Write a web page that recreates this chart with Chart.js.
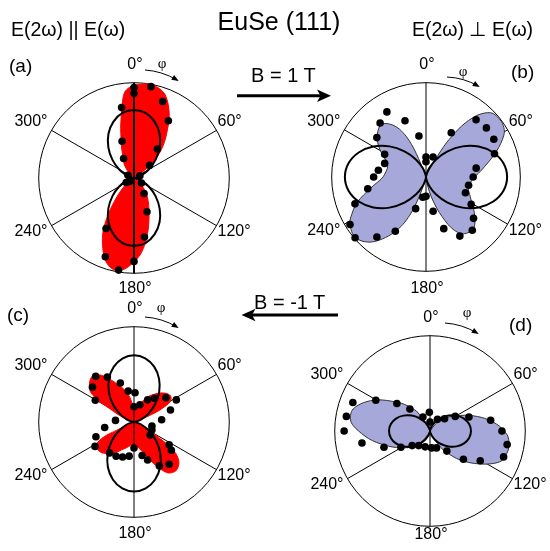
<!DOCTYPE html>
<html>
<head>
<meta charset="utf-8">
<script src="https://cdn.jsdelivr.net/npm/chart.js@4.4.1/dist/chart.umd.min.js"></script>
<style>
  html, body { margin: 0; padding: 0; background: #fff; overflow: hidden; }
  #fig { position: relative; width: 550px; height: 551px; overflow: hidden; font-family: 'Liberation Sans', Arial, sans-serif; color: #000; }
  #fig canvas { position: absolute; }
  .txt { position: absolute; white-space: nowrap; line-height: 1; }
</style>
</head>
<body>
<div id="fig">
  <canvas id="chartA" width="290" height="290"></canvas>
  <canvas id="chartB" width="290" height="290"></canvas>
  <canvas id="chartC" width="290" height="290"></canvas>
  <canvas id="chartD" width="290" height="290"></canvas>

  <div class="txt" style="left:279px; top:8.8px; font-size:25px; transform:translateX(-50%)">EuSe (111)</div>
  <div class="txt" style="left:11px; top:20px; font-size:19.5px">E(2&omega;) || E(&omega;)</div>
  <div class="txt" style="left:412px; top:20px; font-size:19.5px">E(2&omega;) &perp; E(&omega;)</div>
  <div class="txt" style="left:9px; top:55.9px; font-size:19px">(a)</div>
  <div class="txt" style="left:511px; top:61.9px; font-size:19px">(b)</div>
  <div class="txt" style="left:7px; top:304.9px; font-size:19px">(c)</div>
  <div class="txt" style="left:509px; top:314.9px; font-size:19px">(d)</div>
  <div class="txt" style="left:251px; top:65.4px; font-size:20px">B = 1 T</div>
  <div class="txt" style="left:254px; top:292px; font-size:20px">B = -1 T</div>

  <svg width="550" height="551" style="position:absolute; left:0; top:0">
    <line x1="237" y1="95.7" x2="321" y2="95.7" stroke="#000" stroke-width="3"/>
    <polygon points="317,89.5 331,95.7 317,102 320.5,95.7" fill="#000"/>
    <line x1="252" y1="315" x2="338" y2="315" stroke="#000" stroke-width="3"/>
    <polygon points="255.5,308.8 241.5,315 255.5,321.2 252,315" fill="#000"/>
  </svg>
</div>

<script>
// angle phi in degrees, clockwise from the top; radius as a fraction of the outer circle

// angles at which the fitted (black) curves were read
const fitPhi = [0, 10, 20, 30, 40, 50, 60, 70, 80, 90, 100, 110, 120, 130, 140, 150, 160, 170,
  180, 190, 200, 210, 220, 230, 240, 250, 260, 270, 280, 290, 300, 310, 320, 330, 340, 350]

// (a) E(2w) || E(w), B = 1 T
const aFitR = [0.714, 0.693, 0.630, 0.536, 0.419, 0.295, 0.179, 0.083, 0.021, 0, 0.021, 0.083, 0.179, 0.295, 0.419, 0.536, 0.630, 0.693,
  0.714, 0.693, 0.630, 0.536, 0.419, 0.295, 0.179, 0.083, 0.021, 0, 0.021, 0.083, 0.179, 0.295, 0.419, 0.536, 0.630, 0.693]
const aUpPhi = [306, 315, 322, 328, 333, 338, 342, 345, 348, 350, 352, 354, 357, 0, 5, 10, 15, 20, 25, 30, 35, 40, 45, 50, 55, 58]
const aUpR = [0, 0.07, 0.15, 0.21, 0.26, 0.35, 0.44, 0.54, 0.65, 0.74, 0.84, 0.91, 0.95, 0.97, 0.99, 1.0, 0.98, 0.94, 0.85, 0.74, 0.61, 0.5, 0.39, 0.26, 0.11, 0]
const aLoPhi = [122, 130, 140, 148, 155, 160, 165, 170, 175, 180, 185, 190, 195, 200, 205, 210, 215, 220, 225, 232, 238]
const aLoR = [0, 0.08, 0.19, 0.28, 0.37, 0.46, 0.57, 0.69, 0.8, 0.88, 0.95, 0.99, 0.97, 0.9, 0.78, 0.65, 0.48, 0.32, 0.21, 0.1, 0]
const aDotPhi = [0, 0, 10.5, 20.5, 350, 31, 342, 39, 332, 51, 295, 232, 240, 69, 124, 147, 159, 209, 170, 200, 180, 189.5]
const aDotR = [0.95, 0.89, 0.975, 0.857, 0.75, 0.70, 0.405, 0.39, 0.232, 0.21, 0.07, 0.06, 0.095, 0.066, 0.095, 0.194, 0.38, 0.605, 0.63, 0.88, 0.875, 0.98]

// (b) E(2w) perp E(w), B = 1 T
const bFitR = [0, 0.026, 0.101, 0.215, 0.355, 0.505, 0.645, 0.759, 0.834, 0.86, 0.834, 0.759, 0.645, 0.505, 0.355, 0.215, 0.101, 0.026,
  0, 0.026, 0.101, 0.215, 0.355, 0.505, 0.645, 0.759, 0.834, 0.86, 0.834, 0.759, 0.645, 0.505, 0.355, 0.215, 0.101, 0.026]
const bRtPhi = [20, 25, 28, 29.5, 31, 32.5, 34, 36, 38, 40, 43, 46, 50, 55, 60, 64, 68, 72, 76, 80, 84, 88, 92, 97, 102, 107,
  112, 118, 124, 129, 134, 138, 143, 148, 152, 155, 158, 161, 165, 169, 173]
const bRtR = [0, 0.08, 0.2, 0.32, 0.43, 0.51, 0.61, 0.71, 0.79, 0.86, 0.93, 0.975, 0.99, 0.99, 0.96, 0.9, 0.83, 0.76, 0.69, 0.63, 0.58, 0.535, 0.5, 0.475, 0.465, 0.47,
  0.5, 0.545, 0.61, 0.665, 0.72, 0.745, 0.74, 0.71, 0.64, 0.56, 0.45, 0.35, 0.22, 0.1, 0]
const bLtPhi = [193, 196, 199, 201, 203, 206, 210, 215, 220, 225, 230, 235, 240, 244, 248, 252, 256, 261, 266, 271, 277, 283, 288,
  293, 298, 303, 308, 313, 318, 322, 327, 331, 334, 336, 337.5, 338.5, 339]
const bLtR = [0, 0.07, 0.21, 0.33, 0.44, 0.56, 0.68, 0.8, 0.9, 0.96, 0.99, 0.97, 0.93, 0.87, 0.81, 0.73, 0.645, 0.56, 0.49, 0.45, 0.43, 0.42, 0.43,
  0.465, 0.53, 0.6, 0.655, 0.7, 0.73, 0.72, 0.66, 0.58, 0.48, 0.38, 0.27, 0.15, 0]
const bDotPhi = [329, 339.5, 319.6, 308.7, 350.2, 298.7, 288.2, 278, 270, 258.6, 249.3, 238, 229.4, 219.3, 209.5, 198.1, 189, 180,
  168.3, 0, 0, 19.5, 29.7, 41.2, 50.9, 60.9, 71.2, 80, 90, 101, 111.8, 121.2, 131, 139, 150.2, 161]
const bDotR = [0.805, 0.636, 0.751, 0.668, 0.441, 0.50, 0.461, 0.51, 0.555, 0.63, 0.805, 0.95, 0.99, 0.822, 0.661, 0.353, 0.218, 0.205,
  0.371, 0.212, 0.161, 0.225, 0.54, 0.806, 0.825, 0.823, 0.767, 0.54, 0.50, 0.46, 0.45, 0.56, 0.668, 0.748, 0.722, 0.579]

// (c) E(2w) || E(w), B = -1 T
const cFitR = [0.700, 0.679, 0.618, 0.525, 0.411, 0.289, 0.175, 0.082, 0.021, 0, 0.022, 0.085, 0.183, 0.302, 0.428, 0.548, 0.645, 0.708,
  0.730, 0.708, 0.645, 0.548, 0.428, 0.302, 0.183, 0.085, 0.022, 0, 0.021, 0.082, 0.175, 0.289, 0.411, 0.525, 0.618, 0.679]
const cUpPhi = [283, 289, 295, 299, 301, 303, 305, 311, 317, 321, 325, 329, 333, 338, 342, 346, 350, 355, 0, 6, 12, 18, 24, 30,
  36, 42, 48, 53, 57, 61, 64, 66, 68, 70, 72]
const cUpR = [0, 0.08, 0.18, 0.3, 0.44, 0.51, 0.56, 0.62, 0.65, 0.63, 0.6, 0.54, 0.48, 0.41, 0.37, 0.32, 0.27, 0.19, 0.14, 0.13, 0.15, 0.2, 0.25, 0.31,
  0.36, 0.41, 0.45, 0.47, 0.465, 0.43, 0.34, 0.26, 0.14, 0.06, 0]
const cLoPhi = [104, 109, 115, 119, 122, 124, 127, 132, 139, 146, 152, 158, 166, 176, 188, 196, 204, 210, 216, 222, 227, 233,
  238, 241, 243, 244.5, 244.5, 244]
const cLoR = [0, 0.07, 0.13, 0.18, 0.3, 0.43, 0.55, 0.635, 0.675, 0.645, 0.54, 0.415, 0.305, 0.25, 0.25, 0.28, 0.32, 0.37, 0.41, 0.445, 0.47, 0.478,
  0.46, 0.43, 0.38, 0.3, 0.18, 0.08]
const cDotPhi = [320, 310, 329.3, 299.4, 340.7, 349.3, 2, 0, 18.8, 31.7, 40.8, 52.6, 62.4, 71.7, 85.3, 103, 275, 259.3, 248.9, 238,
  218.3, 207.6, 198, 188.1, 180, 166.4, 160.3, 150, 140.3, 127.1, 122.9, 114.4, 128.7]
const cDotR = [0.625, 0.569, 0.548, 0.466, 0.434, 0.33, 0.307, 0.16, 0.191, 0.273, 0.329, 0.421, 0.501, 0.403, 0.291, 0.193, 0.195, 0.313, 0.428, 0.483,
  0.413, 0.405, 0.387, 0.362, 0.273, 0.362, 0.424, 0.532, 0.577, 0.492, 0.439, 0.206, 0.218]

// (d) E(2w) perp E(w), B = -1 T
const dFitR = [0, 0.013, 0.050, 0.108, 0.178, 0.252, 0.323, 0.380, 0.417, 0.43, 0.417, 0.380, 0.323, 0.252, 0.178, 0.108, 0.050, 0.013,
  0, 0.013, 0.050, 0.108, 0.178, 0.252, 0.323, 0.380, 0.417, 0.43, 0.417, 0.380, 0.323, 0.252, 0.178, 0.108, 0.050, 0.013]
const dLtPhi = [210, 214, 220, 226, 233, 240, 247, 253, 258, 263, 268, 272, 276, 280, 285, 289, 293, 297, 301, 305, 309, 314,
  318, 322, 326, 328, 329.5, 330]
const dLtR = [0, 0.09, 0.16, 0.22, 0.29, 0.35, 0.43, 0.5, 0.575, 0.65, 0.72, 0.78, 0.83, 0.85, 0.845, 0.81, 0.76, 0.7, 0.635, 0.56, 0.49, 0.42,
  0.36, 0.3, 0.25, 0.17, 0.1, 0]
const dRtPhi = [35, 38, 42, 50, 57, 63, 68, 73, 77, 82, 86, 90, 94, 99, 104, 109, 113, 117, 121, 126, 131, 136, 140, 145, 149, 152, 155, 157]
const dRtR = [0, 0.08, 0.15, 0.22, 0.28, 0.36, 0.44, 0.52, 0.59, 0.67, 0.73, 0.78, 0.82, 0.84, 0.845, 0.83, 0.81, 0.75, 0.675, 0.58, 0.49, 0.4,
  0.32, 0.24, 0.165, 0.1, 0.05, 0]
const dDotPhi = [290.3, 299.6, 309.8, 317.6, 279.9, 270, 260, 250.6, 240.9, 230.7, 217.9, 197, 174.5, 159, 140, 130.2, 120.7, 109.4,
  100, 90, 80, 70.3, 60, 49.8, 32.6, 358, 333, 0]
const dDotR = [0.863, 0.654, 0.452, 0.313, 0.891, 0.901, 0.725, 0.512, 0.35, 0.242, 0.194, 0.174, 0.178, 0.19, 0.275, 0.459, 0.613, 0.819,
  0.822, 0.755, 0.646, 0.434, 0.306, 0.2, 0.145, 0.197, 0.164, 0.095]

const gridAngles = [0, 60, 120, 180, 240, 300]

const RED = '#ff0000'
const BLUE = '#a5a8d8'
const HALF = 145 // half size of each canvas, px

const DEG = Math.PI / 180

function toXY (phi, r) {
  return phi.map((p, i) => ({ x: r[i] * Math.sin(p * DEG), y: r[i] * Math.cos(p * DEG) }))
}

// fitted curve as a closed loop, seam placed where it passes the centre
function fitLoop (r) {
  const start = r.indexOf(Math.min(...r))
  const pts = toXY(fitPhi, r)
  const loop = pts.slice(start).concat(pts.slice(0, start))
  loop.push(loop[0])
  return loop
}

function lobe (phi, r, fillColor, edge) {
  return {
    data: toXY(phi, r),
    showLine: true,
    fill: 'shape',
    backgroundColor: fillColor,
    borderColor: edge,
    borderWidth: 1,
    pointRadius: 0,
    tension: 0.3,
    order: 3
  }
}

const polarFrame = {
  id: 'polarFrame',
  beforeDatasetsDraw (chart, args, o) {
    const { ctx, scales: { x, y } } = chart
    const cx = x.getPixelForValue(0)
    const cy = y.getPixelForValue(0)
    const rad = x.getPixelForValue(1) - cx
    ctx.save()
    ctx.strokeStyle = '#000'
    ctx.lineWidth = 1
    ctx.beginPath()
    ctx.arc(cx, cy, rad, 0, 2 * Math.PI)
    ctx.stroke()
    for (const a of [60, 120]) {
      const dx = rad * Math.sin(a * DEG)
      const dy = rad * Math.cos(a * DEG)
      ctx.beginPath()
      ctx.moveTo(cx - dx, cy + dy)
      ctx.lineTo(cx + dx, cy - dy)
      ctx.stroke()
    }
    ctx.restore()
  },
  afterDatasetsDraw (chart, args, o) {
    const { ctx, scales: { x, y } } = chart
    const cx = x.getPixelForValue(0)
    const cy = y.getPixelForValue(0)
    const rad = x.getPixelForValue(1) - cx
    ctx.save()
    ctx.strokeStyle = '#000'
    ctx.fillStyle = '#000'
    ctx.lineWidth = o.axisWidth
    ctx.beginPath()
    ctx.moveTo(cx, cy - rad)
    ctx.lineTo(cx, cy + rad)
    ctx.stroke()

    // angle labels
    ctx.font = '16px "Liberation Sans", Arial, sans-serif'
    ctx.textBaseline = 'middle'
    for (const a of gridAngles) {
      const ex = cx + rad * Math.sin(a * DEG)
      const ey = cy - rad * Math.cos(a * DEG)
      const txt = a + '°'
      if (a === 0) {
        ctx.textAlign = 'center'
        ctx.fillText(txt, cx + 1, ey - 18)
      } else if (a === 180) {
        ctx.textAlign = 'center'
        ctx.fillText(txt, cx + 1, ey + o.bottomGap)
      } else {
        ctx.textAlign = a < 180 ? 'left' : 'right'
        const tx = a < 180 ? ex + 1 : ex - 4
        const ty = (a === 60 || a === 300) ? ey - 8.5 : ey + 6
        ctx.fillText(txt, tx, ty)
      }
    }

    // phi arrow
    const [sx, sy, tx, ty] = o.arrow
    const x1 = cx + sx
    const y1 = cy + sy
    const x2 = cx + tx
    const y2 = cy + ty
    const mx = (x1 + x2) / 2
    const my = (y1 + y2) / 2
    const d = Math.hypot(mx - cx, my - cy)
    const qx = mx + (mx - cx) / d * 4
    const qy = my + (my - cy) / d * 4
    ctx.lineWidth = 1
    ctx.beginPath()
    ctx.moveTo(x1, y1)
    ctx.quadraticCurveTo(qx, qy, x2, y2)
    ctx.stroke()
    const ang = Math.atan2(y2 - qy, x2 - qx)
    ctx.beginPath()
    ctx.moveTo(x2 + 2 * Math.cos(ang), y2 + 2 * Math.sin(ang))
    ctx.lineTo(x2 - 5 * Math.cos(ang) + 2.8 * Math.sin(ang), y2 - 5 * Math.sin(ang) - 2.8 * Math.cos(ang))
    ctx.lineTo(x2 - 5 * Math.cos(ang) - 2.8 * Math.sin(ang), y2 - 5 * Math.sin(ang) + 2.8 * Math.cos(ang))
    ctx.closePath()
    ctx.fill()

    ctx.font = '15px "Liberation Serif", "Times New Roman", serif'
    ctx.textAlign = 'center'
    ctx.fillText('φ', cx + o.phiAt[0], cy + o.phiAt[1])
    ctx.restore()
  }
}

function drawPanel (p) {
  const el = document.getElementById(p.canvas)
  el.style.left = (p.cx - HALF) + 'px'
  el.style.top = (p.cy - HALF) + 'px'
  const lim = HALF / p.R
  new Chart(el, {
    type: 'scatter',
    data: {
      datasets: [
        {
          data: toXY(p.dotPhi, p.dotR),
          pointRadius: 3.8,
          pointBackgroundColor: '#000',
          pointBorderWidth: 0,
          showLine: false,
          order: 1
        },
        {
          data: fitLoop(p.fitR),
          showLine: true,
          borderColor: '#000',
          borderWidth: 2,
          pointRadius: 0,
          tension: 0.35,
          fill: false,
          order: 2
        },
        ...p.lobes
      ]
    },
    options: {
      responsive: false,
      animation: false,
      devicePixelRatio: 1,
      layout: { padding: 0 },
      scales: {
        x: { type: 'linear', min: -lim, max: lim, display: false },
        y: { type: 'linear', min: -lim, max: lim, display: false }
      },
      plugins: {
        legend: { display: false },
        tooltip: { enabled: false },
        polarFrame: { axisWidth: p.axisWidth, arrow: p.arrow, phiAt: p.phiAt, bottomGap: p.bottomGap }
      }
    },
    plugins: [polarFrame]
  })
}

drawPanel({
  canvas: 'chartA', cx: 134, cy: 178, R: 98, axisWidth: 2,
  arrow: [11, -108, 43, -98], phiAt: [28, -114], bottomGap: 15.5,
  fitR: aFitR, dotPhi: aDotPhi, dotR: aDotR,
  lobes: [lobe(aUpPhi, aUpR, RED, RED), lobe(aLoPhi, aLoR, RED, RED)]
})
drawPanel({
  canvas: 'chartB', cx: 426, cy: 177, R: 97, axisWidth: 1,
  arrow: [21, -100, 52, -91], phiAt: [37, -105], bottomGap: 17.5,
  fitR: bFitR, dotPhi: bDotPhi, dotR: bDotR,
  lobes: [lobe(bRtPhi, bRtR, BLUE, '#333'), lobe(bLtPhi, bLtR, BLUE, '#333')]
})
drawPanel({
  canvas: 'chartC', cx: 134, cy: 422, R: 98, axisWidth: 1,
  arrow: [11, -105, 43, -95], phiAt: [27, -114], bottomGap: 16.5,
  fitR: cFitR, dotPhi: cDotPhi, dotR: cDotR,
  lobes: [lobe(cUpPhi, cUpR, RED, RED), lobe(cLoPhi, cLoR, RED, RED)]
})
drawPanel({
  canvas: 'chartD', cx: 430, cy: 431, R: 98, axisWidth: 1,
  arrow: [15, -108, 47, -98], phiAt: [37, -118], bottomGap: 8,
  fitR: dFitR, dotPhi: dDotPhi, dotR: dDotR,
  lobes: [lobe(dLtPhi, dLtR, BLUE, '#333'), lobe(dRtPhi, dRtR, BLUE, '#333')]
})
</script>
</body>
</html>
